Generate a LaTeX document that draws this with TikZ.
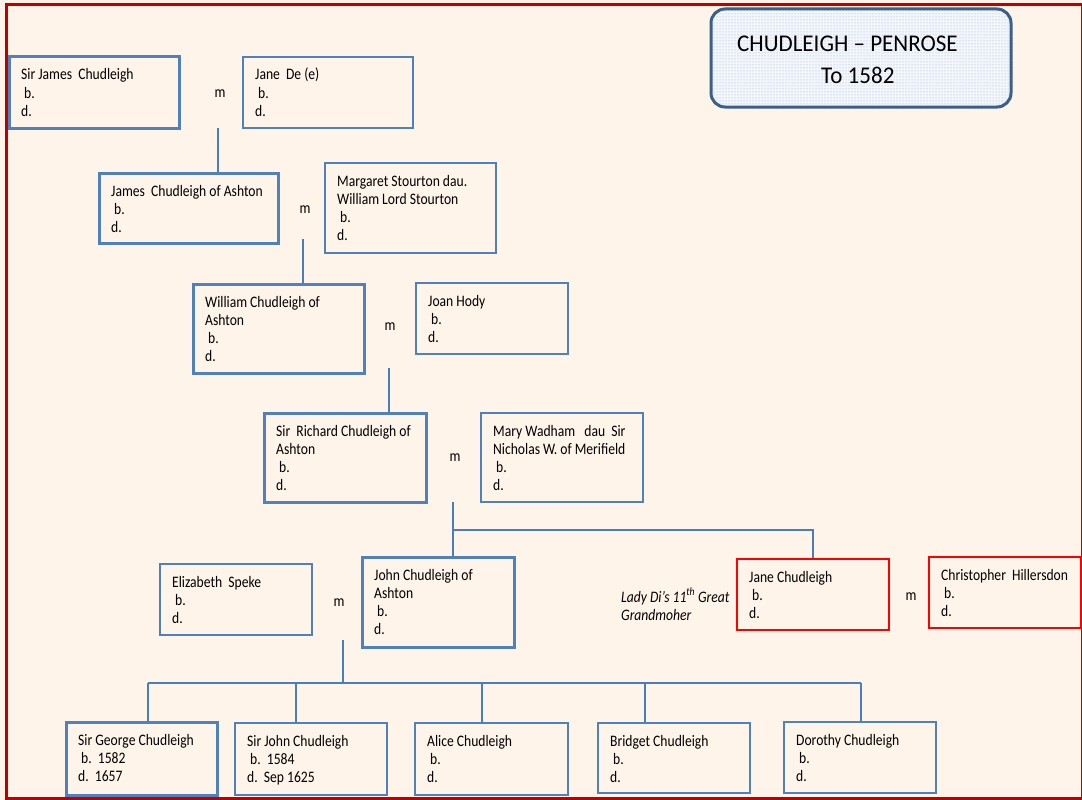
\documentclass[tikz,border=0pt]{standalone}
\usepackage{fontspec}
\setmainfont{Carlito}[FakeStretch=0.85]
\newfontfamily\titlefont{Carlito}[FakeStretch=0.96]
\usetikzlibrary{patterns}
\definecolor{cream}{HTML}{FEF4E9}
\definecolor{boxblue}{HTML}{4F81BD}
\definecolor{linkblue}{HTML}{4A7EBB}
\definecolor{framered}{HTML}{C00000}
\definecolor{boxred}{HTML}{FF0000}
\definecolor{titleblue}{HTML}{3A5F8B}
\definecolor{dotblue}{HTML}{8EA9D6}
\definecolor{titlefill}{HTML}{F3F6FB}
\newcommand\bb{\hspace*{3pt}b.}
\newcommand\pers[7]{%
  \node[#2, minimum width=#5pt, minimum height=#6pt] (#1) at ({#3+#5/2},{#4+#6/2}) {};
  \node[txt] (#1t) at ({#3+12},{#4+23}) {\parbox[t]{300pt}{\raggedright #7}};
}
\tikzset{
  thinbox/.style={draw=boxblue, line width=1.5pt, inner sep=0pt},
  thickbox/.style={draw=boxblue, line width=3pt, inner sep=0pt},
  redbox/.style={draw=boxred, line width=1.8pt, inner sep=0pt},
  txt/.style={anchor=base west, inner sep=0pt, font=\fontsize{16}{18.3}\selectfont},
  mlab/.style={inner sep=0pt, font=\fontsize{16}{18.3}\selectfont},
  link/.style={draw=linkblue, line width=1.6pt},
}
\begin{document}
\begin{tikzpicture}[x=1pt,y=-1pt]
\useasboundingbox (0,0) rectangle (1082,800);
\fill[cream] (0,0) rectangle (1082,800);
\draw[framered, line width=3pt] (6.5,5) rectangle (1082.5,798.5);
% title
\node[draw=titleblue, line width=3pt, rounded corners=14pt, minimum width=300pt, minimum height=98pt,
      preaction={fill=titlefill}, pattern=dots, pattern color=dotblue] (title) at (861,58) {};
\node[anchor=base west, inner sep=0pt, font=\titlefont\fontsize{24}{28}\selectfont] (title1) at (737,52) {CHUDLEIGH – PENROSE};
\node[anchor=base west, inner sep=0pt, font=\titlefont\fontsize{24}{28}\selectfont] (title2) at (821,84) {To 1582};
% people
\pers{jamesSr}{thickbox}{9}{57}{170}{71}{Sir James~~Chudleigh\\\bb\\d.}
\pers{janeDe}{thinbox}{243}{57}{170}{71}{Jane~~De (e)\\\bb\\d.}
\pers{jamesA}{thickbox}{99}{173}{179}{70}{James~~Chudleigh of Ashton\\\bb\\d.}
\pers{margaret}{thinbox}{325}{163}{171}{90}{Margaret Stourton dau.\\William Lord Stourton\\\bb\\d.}
\pers{william}{thickbox}{193}{284}{171}{89}{William Chudleigh of\\Ashton\\\bb\\d.}
\pers{joan}{thinbox}{416}{283}{152}{71}{Joan Hody\\\bb\\d.}
\pers{richard}{thickbox}{264}{413}{162}{89}{Sir~~Richard Chudleigh of\\Ashton\\\bb\\d.}
\pers{mary}{thinbox}{481}{413}{162}{89}{Mary Wadham~~~dau~~Sir\\Nicholas W. of Merifield\\\bb\\d.}
\pers{john}{thickbox}{362}{557}{152}{90}{John Chudleigh of\\Ashton\\\bb\\d.}
\pers{eliz}{thinbox}{160}{564}{152}{71}{Elizabeth~~Speke\\\bb\\d.}
\pers{janeC}{redbox}{737}{559}{152}{71}{Jane Chudleigh\\\bb\\d.}
\pers{chris}{redbox}{929}{557}{152}{71}{Christopher~~Hillersdon\\\bb\\d.}
\pers{george}{thickbox}{66}{722}{151}{73}{Sir George Chudleigh\\\bb~~1582\\d.~~1657}
\pers{sirjohn}{thinbox}{235}{723}{152}{72}{Sir John Chudleigh\\\bb~~1584\\d.~~Sep 1625}
\pers{alice}{thinbox}{415}{723}{153}{72}{Alice Chudleigh\\\bb\\d.}
\pers{bridget}{thinbox}{598}{723}{152}{70}{Bridget Chudleigh\\\bb\\d.}
\pers{dorothy}{thinbox}{784}{722}{152}{71}{Dorothy Chudleigh\\\bb\\d.}
% m labels
\node[mlab] (m1) at (220,94) {m};
\node[mlab] (m2) at (305,210) {m};
\node[mlab] (m3) at (390,327) {m};
\node[mlab] (m4) at (455,458) {m};
\node[mlab] (m5) at (339,603) {m};
\node[mlab] (m6) at (911,597) {m};
% note
\node[txt, font=\itshape\fontsize{16}{18}\selectfont] (note) at (621,602)
  {\parbox[t]{200pt}{\raggedright Lady Di’s 11\textsuperscript{th} Great\\Grandmoher}};
% connectors
\coordinate (c1) at (218,128);
\draw[link] (c1) -- (c1 |- jamesA.north);
\coordinate (c2) at (303,239);
\draw[link] (c2) -- (c2 |- william.north);
\coordinate (c3) at (389,368);
\draw[link] (c3) -- (c3 |- richard.north);
\coordinate (c4) at (453,502);
\coordinate (j4) at (453,530);
\coordinate (k4) at (813,530);
\draw[link] (c4) -- (c4 |- john.north);
\draw[link] (j4) -- (k4) -- (k4 |- janeC.north);
\coordinate (c5) at (343,640);
\coordinate (j5) at (343,683);
\draw[link] (c5) -- (j5);
\coordinate (l5) at (148,683);
\coordinate (r5) at (861,683);
\draw[link] (l5) -- (r5);
\draw[link] (l5) -- (l5 |- george.north);
\coordinate (s2) at (296,683);
\draw[link] (s2) -- (s2 |- sirjohn.north);
\coordinate (s3) at (482,683);
\draw[link] (s3) -- (s3 |- alice.north);
\coordinate (s4) at (645,683);
\draw[link] (s4) -- (s4 |- bridget.north);
\draw[link] (r5) -- (r5 |- dorothy.north);
\end{tikzpicture}
\end{document}
